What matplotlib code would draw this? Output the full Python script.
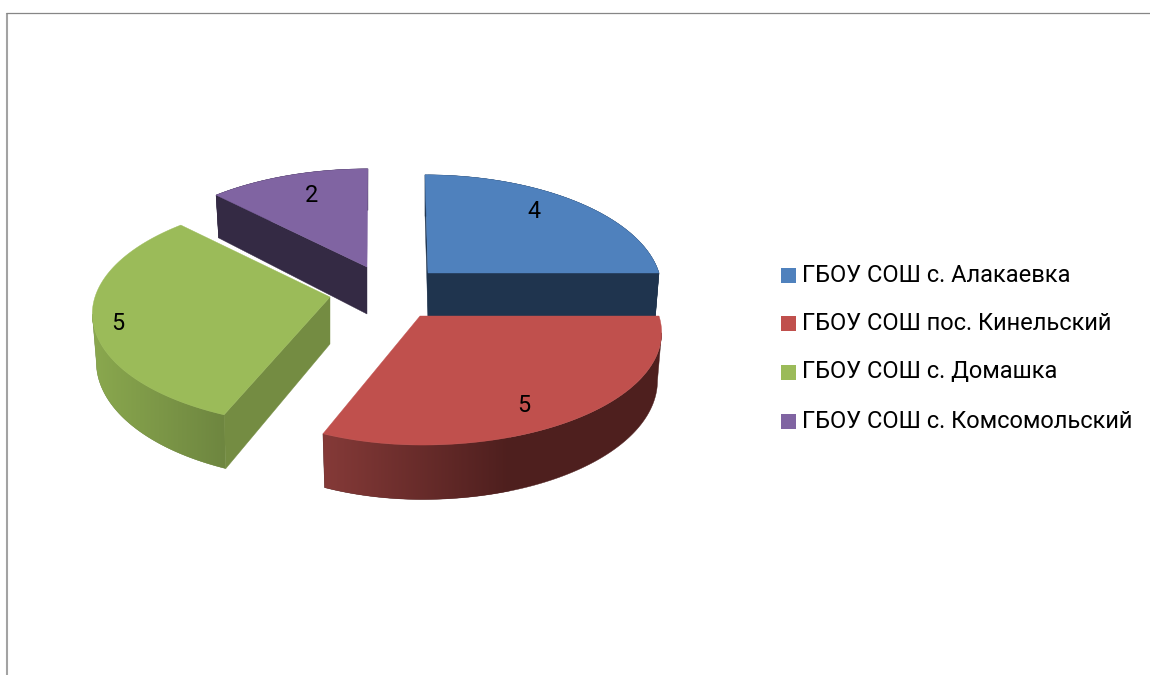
import numpy as np
import matplotlib
matplotlib.use("Agg")
import matplotlib.pyplot as plt
from matplotlib.colors import LinearSegmentedColormap
from matplotlib.patches import Polygon, Rectangle

# ---- data ----
CATEGORIES = ["ГБОУ СОШ с. Алакаевка", "ГБОУ СОШ пос. Кинельский",
              "ГБОУ СОШ с. Домашка", "ГБОУ СОШ с. Комсомольский"]
VALUES = [4, 5, 5, 2]

# ---- style: one entry per slice ----
TOP_COLORS = ["#4F81BD", "#C0504D", "#9BBB59", "#8064A2"]
CUT_COLORS = ["#1F344E", "#7A3230", "#748C42", "#342A44"]
CUT_ENDS = [(0, -1), (), (0,), (0,)]             # cut faces the viewer can see
RIM_LEFT = ["#1F344E", "#853A38", "#8AA84E", "#342A44"]
RIM_RIGHT = ["#1F344E", "#4E1F1E", "#6E8640", "#342A44"]
RIM_X = [(428, 659), (323, 510), (93, 225), (216, 367)]
APEX_X = [428, 420, 330, 367]
APEX_Y = [273, 316, 297, 267]
RX_POS = [231, 239, 235, 235]
RX_NEG = [231, 227, 235, 235]
LABEL_X = [534, 524, 118, 312]
LABEL_Y = [212, 405, 323, 195]
LEGEND_Y = [275.5, 323, 372, 421]

# perspective of the disc
RY = 111.5
PERSP = 0.136
DEPTH = 47.0
SHRINK = 0.983
SHEAR = -0.065
VANISH_X = 382
FONT = "Roboto"


def project(i, theta, bottom=False):
    """slice i, angle in radians -> pixel coordinates of the rim point"""
    X, Y = np.cos(theta), np.sin(theta)
    w = 1.0 + PERSP * Y
    rx = np.where(X >= 0, RX_POS[i], RX_NEG[i])
    dx = rx * X / w + SHEAR * (APEX_X[i] - VANISH_X) * Y
    dy = -RY * Y / w
    if bottom:
        dx = dx * SHRINK
        dy = dy + DEPTH / w
    return APEX_X[i] + dx, APEX_Y[i] + dy


def apex(i, bottom=False):
    return APEX_X[i], APEX_Y[i] + (DEPTH if bottom else 0.0)


def draw_slice(ax, i, a0, a1, z):
    # a0 > a1, going clockwise
    th = np.linspace(a0, a1, 200)
    xt, yt = project(i, th)
    xb, yb = project(i, th, bottom=True)

    # rim outline: front part only, between the side extremes of each arc,
    # so that the silhouette closes with a straight tangent
    t0, t1 = sorted((int(np.argmin(xt)), int(np.argmax(xt))))
    b0, b1 = sorted((int(np.argmin(xb)), int(np.argmax(xb))))
    out = np.column_stack([np.r_[xt[t0:t1 + 1], xb[b0:b1 + 1][::-1]],
                           np.r_[yt[t0:t1 + 1], yb[b0:b1 + 1][::-1]]])
    ax.add_patch(Polygon(out, closed=True, fc=RIM_RIGHT[i], ec=RIM_RIGHT[i],
                         lw=0.3, zorder=z))
    rim = Polygon(out, closed=True, fc="none", ec="none", zorder=z)
    ax.add_patch(rim)
    cmap = LinearSegmentedColormap.from_list("rim", [RIM_LEFT[i], RIM_RIGHT[i]])
    x0, x1 = RIM_X[i]
    im = ax.imshow(np.linspace(0, 1, 256).reshape(1, -1), extent=[x0, x1, 675, 0],
                   cmap=cmap, aspect="auto", interpolation="bilinear", zorder=z + 0.1)
    im.set_clip_path(rim)

    for end in CUT_ENDS[i]:
        ax.add_patch(Polygon([apex(i), (xt[end], yt[end]), (xb[end], yb[end]),
                              apex(i, True)], closed=True, fc=CUT_COLORS[i],
                             ec=CUT_COLORS[i], lw=0.3, zorder=z + 0.2))

    # top face
    px = np.concatenate([[APEX_X[i]], xt])
    py = np.concatenate([[APEX_Y[i]], yt])
    ax.add_patch(Polygon(np.column_stack([px, py]), closed=True,
                         fc=TOP_COLORS[i], ec=TOP_COLORS[i], lw=0.3, zorder=z + 0.3))


fig = plt.figure(figsize=(11.5, 6.75), dpi=100)
ax = fig.add_axes([0, 0, 1, 1])
ax.axis("off")

# chart frame, cut by the crop on two sides
ax.plot([7, 7], [12.5, 675], color="#A3A3A3", lw=1.5, solid_capstyle="butt")
ax.plot([6, 1150], [12.5, 12.5], color="#868686", lw=0.9, solid_capstyle="butt")

# angles from the values, clockwise from 12 o'clock
total = float(sum(VALUES))
edges = np.pi / 2 - 2 * np.pi * np.concatenate([[0], np.cumsum(VALUES)]) / total
for z, i in enumerate((3, 0, 2, 1)):
    draw_slice(ax, i, edges[i], edges[i + 1], 3 + z)

for i, v in enumerate(VALUES):
    ax.text(LABEL_X[i], LABEL_Y[i], str(v), ha="center", va="center",
            fontsize=16.8, family=FONT, color="black", zorder=10)

for i, name in enumerate(CATEGORIES):
    ax.add_patch(Rectangle((781, LEGEND_Y[i] - 7.5), 15, 15, fc=TOP_COLORS[i], ec="none"))
    ax.text(802.5, LEGEND_Y[i], name, ha="left", va="center", fontsize=17,
            family=FONT, color="black")

ax.set_xlim(0, 1150)
ax.set_ylim(675, 0)
fig.savefig("out.png", dpi=100, facecolor="white")
